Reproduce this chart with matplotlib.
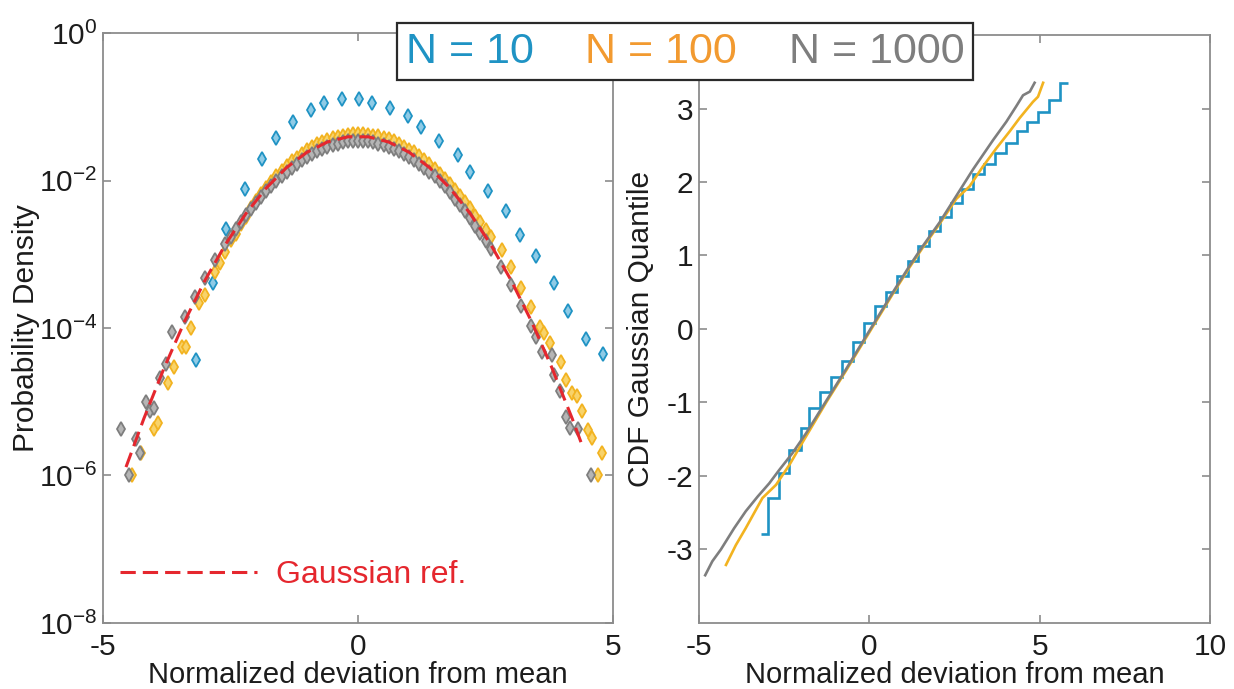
import matplotlib
matplotlib.use("Agg")
import matplotlib.pyplot as plt
from matplotlib.lines import Line2D
from matplotlib.ticker import NullLocator

plt.rcParams["font.family"] = ["Liberation Sans", "DejaVu Sans"]
plt.rcParams["mathtext.fontset"] = "custom"
plt.rcParams["mathtext.rm"] = "Liberation Sans"
plt.rcParams["mathtext.it"] = "Liberation Sans:italic"
plt.rcParams["mathtext.default"] = "regular"
plt.rcParams["axes.unicode_minus"] = False

BLUE = "#1f93c4"
ORANGE = "#f2b320"
ORANGE_TXT = "#f29a30"
GRAY = "#7e7e7e"
RED = "#e5272e"
SPINE = "#8c8c8c"

# ---- left panel: probability density (log scale) ----
blue_x = [-3.17, -2.84, -2.59, -2.22, -1.88, -1.61, -1.28, -0.93, -0.66, -0.31, 0.02, 0.27, 0.62,
          0.97, 1.24, 1.59, 1.96, 2.20, 2.55, 2.90, 3.17, 3.49, 3.84, 4.12, 4.47, 4.80]
blue_y = [3.7e-5, 4.1e-4, 2.2e-3, 7.6e-3, 1.95e-2, 3.8e-2, 6.3e-2, 9.1e-2, 0.112, 0.126, 0.126, 0.112, 0.0955,
          0.0741, 0.0525, 0.0347, 0.0219, 0.0129, 0.0071, 0.0038, 0.0018, 9.5e-4, 4.1e-4, 1.7e-4, 7.2e-5, 4.5e-5]

orange_x = [-4.43, -4.25, -4.00, -3.92, -3.73, -3.61, -3.45, -3.37, -3.28, -3.11, -3.0, -2.80, -2.70,
            -2.6, -2.5, -2.4, -2.3, -2.2, -2.1, -2.0, -1.9, -1.8, -1.7, -1.6, -1.5, -1.4, -1.3,
            -1.2, -1.1, -1.0, -0.9, -0.8, -0.7, -0.6, -0.5, -0.4, -0.3, -0.2, -0.1, 0.0,
            0.1, 0.2, 0.3, 0.4, 0.5, 0.6, 0.7, 0.8, 0.9, 1.0, 1.1, 1.2, 1.3,
            1.4, 1.5, 1.6, 1.7, 1.8, 1.9, 2.0, 2.1, 2.2, 2.3, 2.4, 2.5, 2.6,
            2.83, 2.99, 3.2, 3.4,
            3.57, 3.65, 3.77, 3.98, 4.08, 4.19, 4.29, 4.39, 4.50, 4.58, 4.70, 4.79]
orange_y = [1.0e-6, 2.0e-6, 4.3e-6, 5.1e-6, 1.8e-5, 3.0e-5, 5.5e-5, 5.5e-5, 1.0e-4, 2.2e-4, 2.8e-4, 5.8e-4, 7.6e-4,
            1.07e-3, 1.58e-3, 1.9e-3, 2.6e-3, 3.2e-3, 4.2e-3, 5.2e-3, 6.5e-3, 7.9e-3, 9.5e-3, 1.15e-2, 1.35e-2, 1.58e-2, 1.82e-2,
            2.04e-2, 2.32e-2, 2.57e-2, 2.82e-2, 3.09e-2, 3.31e-2, 3.55e-2, 3.76e-2, 3.89e-2, 4.07e-2, 4.17e-2, 4.25e-2, 4.27e-2,
            4.25e-2, 4.17e-2, 4.07e-2, 3.98e-2, 3.8e-2, 3.6e-2, 3.39e-2, 3.16e-2, 2.88e-2, 2.63e-2, 2.4e-2, 2.14e-2, 1.9e-2,
            1.66e-2, 1.45e-2, 1.23e-2, 1.06e-2, 8.9e-3, 7.5e-3, 6.2e-3, 5.1e-3, 4.2e-3, 3.35e-3, 2.7e-3, 2.14e-3, 1.7e-3,
            1.15e-3, 6.8e-4, 3.5e-4, 1.9e-4,
            1.02e-4, 8.5e-5, 6.3e-5, 3.5e-5, 2.0e-5, 1.3e-5, 1.2e-5, 7.4e-6, 4.2e-6, 3.2e-6, 1.0e-6, 2.0e-6]

gray_x = [-4.64, -4.50, -4.36, -4.28, -4.16, -4.08, -4.00, -3.88, -3.76, -3.65,
          -3.4, -3.2, -3.0, -2.8, -2.6, -2.5, -2.4, -2.3, -2.2, -2.1, -2.0, -1.9, -1.8, -1.7, -1.6, -1.5,
          -1.4, -1.3, -1.2, -1.1, -1.0, -0.9, -0.8, -0.7, -0.6, -0.5, -0.4, -0.3, -0.2, -0.1, 0.0,
          0.1, 0.2, 0.3, 0.4, 0.5, 0.6, 0.7, 0.8, 0.9, 1.0, 1.1, 1.2, 1.3, 1.4, 1.5,
          1.6, 1.7, 1.8, 1.9, 2.0, 2.1, 2.2, 2.3, 2.4, 2.5, 2.6, 2.8, 3.0, 3.2, 3.4,
          3.49, 3.61, 3.80, 3.84, 3.96, 4.08, 4.15, 4.31, 4.56]
gray_y = [4.3e-6, 1.0e-6, 3.1e-6, 2.0e-6, 1.0e-5, 7.4e-6, 8.1e-6, 2.1e-5, 3.2e-5, 8.7e-5,
          1.4e-4, 2.6e-4, 4.8e-4, 8.3e-4, 1.38e-3, 1.74e-3, 2.2e-3, 2.75e-3, 3.4e-3, 4.15e-3, 5.0e-3, 6.0e-3, 7.2e-3,
          8.5e-3, 1.0e-2, 1.15e-2,
          1.32e-2, 1.5e-2, 1.7e-2, 1.9e-2, 2.09e-2, 2.3e-2, 2.51e-2, 2.7e-2, 2.88e-2, 3.05e-2, 3.16e-2, 3.3e-2,
          3.39e-2, 3.45e-2, 3.47e-2,
          3.45e-2, 3.39e-2, 3.3e-2, 3.16e-2, 3.05e-2, 2.88e-2, 2.7e-2, 2.51e-2, 2.3e-2, 2.09e-2, 1.9e-2, 1.7e-2,
          1.5e-2, 1.32e-2, 1.15e-2,
          9.8e-3, 8.3e-3, 6.9e-3, 5.7e-3, 4.7e-3, 3.8e-3, 3.1e-3, 2.45e-3, 1.95e-3, 1.5e-3, 1.17e-3, 6.8e-4,
          3.8e-4, 2.0e-4, 1.05e-4,
          7.6e-5, 4.8e-5, 4.3e-5, 2.3e-5, 1.4e-5, 6.2e-6, 4.4e-6, 4.3e-6, 1.0e-6]

gauss_x = [-4.55, -4.2, -3.8, -3.4, -3.0, -2.6, -2.2, -1.8, -1.4, -1.0, -0.6, -0.2,
           0.2, 0.6, 1.0, 1.4, 1.8, 2.2, 2.6, 3.0, 3.4, 3.8, 4.2, 4.4]
gauss_y = [1.3e-6, 5.9e-6, 2.9e-5, 1.23e-4, 4.44e-4, 1.36e-3, 3.55e-3, 7.9e-3, 1.5e-2, 2.42e-2, 3.33e-2, 3.91e-2,
           3.91e-2, 3.33e-2, 2.42e-2, 1.5e-2, 7.9e-3, 3.55e-3, 1.36e-3, 4.44e-4, 1.23e-4, 2.9e-5, 5.9e-6, 2.5e-6]

# ---- right panel: CDF Gaussian quantile vs deviation ----
q_blue_edges = [-3.19, -2.99, -2.65, -2.35, -2.01, -1.76, -1.44, -1.12, -0.80, -0.48, -0.16, 0.16, 0.48,
                0.80, 1.12, 1.44, 1.76, 2.08, 2.40, 2.72, 3.04, 3.36, 3.68, 4.00, 4.32, 4.64, 4.96,
                5.28, 5.60, 5.83]
q_blue_levels = [-2.79, -2.30, -1.96, -1.65, -1.35, -1.08, -0.86, -0.65, -0.43, -0.18, 0.075, 0.31,
                 0.51, 0.72, 0.92, 1.13, 1.33, 1.53, 1.71, 1.91, 2.11, 2.25, 2.39, 2.53, 2.69, 2.82,
                 2.95, 3.12, 3.35]

q_orange_x = [-4.21, -3.92, -3.63, -3.14, -2.74, -2.35, -1.96, -1.27, -0.69, -0.10, 0.69, 1.18, 1.57,
              2.06, 2.55, 2.94, 3.33, 3.73, 4.12, 4.41, 4.80, 4.95, 5.10]
q_orange_y = [-3.21, -2.94, -2.71, -2.30, -2.12, -1.85, -1.54, -1.00, -0.57, -0.12, 0.48, 0.84, 1.11,
              1.43, 1.77, 1.94, 2.21, 2.46, 2.69, 2.87, 3.09, 3.16, 3.35]

q_gray_x = [-4.82, -4.61, -4.36, -3.97, -3.63, -3.28, -2.94, -2.65, -2.26, -1.86, -1.27, -0.69, -0.10,
            0.69, 1.18, 1.57, 2.06, 2.55, 3.04, 3.63, 4.02, 4.31, 4.51, 4.71, 4.85]
q_gray_y = [-3.35, -3.16, -3.00, -2.71, -2.48, -2.28, -2.10, -1.92, -1.69, -1.42, -0.98, -0.55, -0.10,
            0.50, 0.86, 1.13, 1.45, 1.81, 2.17, 2.57, 2.82, 3.03, 3.18, 3.23, 3.35]

labels = ["N = 10", "N = 100", "N = 1000"]


def style_axes(ax):
    for s in ax.spines.values():
        s.set_color(SPINE)
        s.set_linewidth(1.3)
    ax.tick_params(direction="in", length=6, width=1.2, color=SPINE, top=True, right=True,
                   labelsize=21.5, labelcolor="#1c1c1c")
    ax.tick_params(axis="x", pad=7)
    ax.tick_params(axis="y", pad=4)


fig = plt.figure(figsize=(12.34, 6.89), dpi=100)
ax1 = fig.add_axes([0.0835, 0.0958, 0.4133, 0.8563])
ax2 = fig.add_axes([0.5665, 0.0958, 0.4141, 0.8534])

mk = dict(linestyle="none", marker="d", markersize=7.5, markeredgewidth=1.3)
ax1.plot(blue_x, blue_y, color=BLUE, markerfacecolor="#8fcbe6", **mk)
ax1.plot(orange_x, orange_y, color=ORANGE, markerfacecolor="#f8d36a", **mk)
ax1.plot(gray_x, gray_y, color=GRAY, markerfacecolor="#b5b5b5", **mk)
red_line, = ax1.plot(gauss_x, gauss_y, color=RED, linewidth=2.2, dashes=(5, 2.3))

ax1.set_yscale("log")
ax1.set_xlim(-5, 5)
ax1.set_ylim(1e-8, 1)
ax1.set_xticks([-5, 0, 5])
ax1.set_yticks([1e-8, 1e-6, 1e-4, 1e-2, 1])
ax1.yaxis.set_minor_locator(NullLocator())
style_axes(ax1)
ax1.set_xlabel("Normalized deviation from mean", fontsize=21, color="#1c1c1c")
ax1.set_ylabel("Probability Density", fontsize=21.5, color="#1c1c1c")
ax1.xaxis.set_label_coords(0.5, -0.0644)
ax1.yaxis.set_label_coords(-0.124, 0.5)

leg1 = ax1.legend([red_line], ["Gaussian ref."], loc="center left", bbox_to_anchor=(0.033, 0.081),
                  frameon=False, fontsize=23, handlelength=4.3, handletextpad=0.6,
                  borderpad=0, borderaxespad=0)
leg1.get_texts()[0].set_color(RED)

# right panel
ax2.plot(q_orange_x, q_orange_y, color=ORANGE, linewidth=1.9)
ax2.plot(q_gray_x, q_gray_y, color=GRAY, linewidth=1.9)
ax2.stairs(q_blue_levels, q_blue_edges, baseline=None, color=BLUE, linewidth=1.9)
ax2.set_xlim(-5, 10)
ax2.set_ylim(-4, 4)
ax2.set_xticks([-5, 0, 5, 10])
ax2.set_yticks([-3, -2, -1, 0, 1, 2, 3])
style_axes(ax2)
ax2.set_xlabel("Normalized deviation from mean", fontsize=21, color="#1c1c1c")
ax2.set_ylabel("CDF Gaussian Quantile", fontsize=21.5, color="#1c1c1c")
ax2.xaxis.set_label_coords(0.5, -0.0646)
ax2.yaxis.set_label_coords(-0.086, 0.5)

# shared legend box on top
proxies = [Line2D([], [], linestyle="none", marker="none") for _ in labels]
leg = fig.legend(proxies, labels, loc="upper center", bbox_to_anchor=(0.5551, 0.9666), ncol=3,
                 fontsize=31, handlelength=0, handletextpad=0, columnspacing=1.2,
                 borderpad=0.2, borderaxespad=0, fancybox=False, framealpha=1, edgecolor="#2a2a2a")
leg.get_frame().set_linewidth(1.6)
for t, c in zip(leg.get_texts(), [BLUE, ORANGE_TXT, GRAY]):
    t.set_color(c)

fig.savefig("out.png", dpi=100)
